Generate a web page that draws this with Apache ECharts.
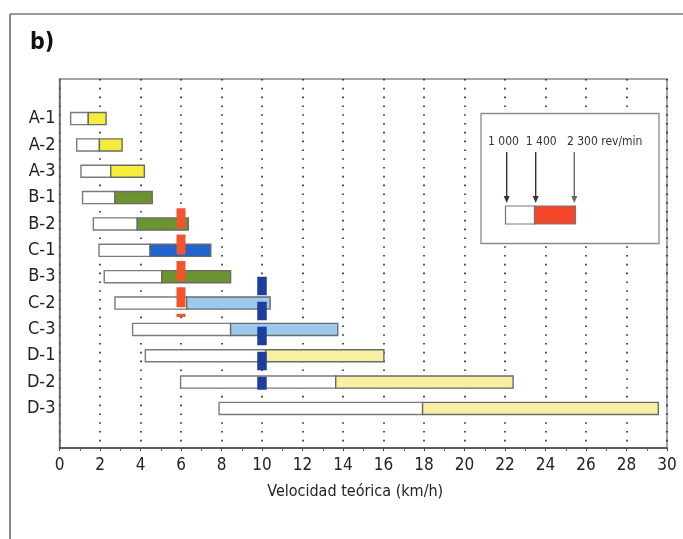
<!DOCTYPE html>
<html>
<head>
<meta charset="utf-8">
<script src="https://cdn.jsdelivr.net/npm/echarts@6/dist/echarts.min.js"></script>
<style>html,body{margin:0;padding:0;background:#fff;}#c{width:683px;height:539px;}</style>
</head>
<body>
<div id="c"></div>
<script>
// ---- data ----
const categories = ['A-1','A-2','A-3','B-1','B-2','C-1','B-3','C-2','C-3','D-1','D-2','D-3'];
const speedAt1000 = [0.55,0.85,1.06,1.14,1.67,1.95,2.21,2.74,3.61,4.24,5.98,7.88];
const speedAt1400 = [1.42,1.97,2.53,2.74,3.84,4.47,5.05,6.28,8.45,10.18,13.64,17.93];
const speedAt2300 = [2.30,3.09,4.19,4.58,6.36,7.47,8.45,10.40,13.74,16.02,22.40,29.57];
const xTicks = [0,2,4,6,8,10,12,14,16,18,20,22,24,26,28,30];
const redMarkerX = [6, 6];
const redMarkerRows = [3.40, 7.53];
const blueMarkerX = [10, 10];
const blueMarkerRows = [6.00, 10.29];
const legendLabel = '1 000  1 400   2 300 rev/min';

// ---- styles ----
const FONT = '"Liberation Sans Narrow","DejaVu Sans Condensed","Liberation Sans",sans-serif';
const rowColor = {
  'A-1':'#f4ee3a','A-2':'#f4ee3a','A-3':'#f4ee3a',
  'B-1':'#6b9431','B-2':'#6b9431','B-3':'#6b9431',
  'C-1':'#2163cf','C-2':'#9ccaee','C-3':'#9ccaee',
  'D-1':'#f7efa2','D-2':'#f7efa2','D-3':'#f7efa2'
};

const barData = categories.map((c, i) => [i, speedAt1000[i], speedAt1400[i], speedAt2300[i]]);

function renderBar(params, api) {
  const i = api.value(0);
  const p0 = api.coord([api.value(1), i]);
  const p1 = api.coord([api.value(2), i]);
  const p2 = api.coord([api.value(3), i]);
  const h = Math.abs(api.size([0, 0.46])[1]);
  const col = rowColor[categories[i]];
  return {
    type: 'group',
    children: [
      { type: 'rect', shape: { x: p0[0], y: p0[1] - h / 2, width: p1[0] - p0[0], height: h },
        style: { fill: '#ffffff', stroke: '#7a7a7a', lineWidth: 1.4 } },
      { type: 'rect', shape: { x: p1[0], y: p1[1] - h / 2, width: p2[0] - p1[0], height: h },
        style: { fill: col, stroke: '#6a6a6a', lineWidth: 1.4 } }
    ]
  };
}

const chart = echarts.init(document.getElementById('c'), null, { renderer: 'canvas' });

const arrowXs = [506.7, 535.7, 574.3];
const graphics = [
  { type: 'line', shape: { x1: 10, y1: 14, x2: 683, y2: 14 }, style: { stroke: '#9a9a9a', lineWidth: 2 }, z: 100 },
  { type: 'line', shape: { x1: 10, y1: 14, x2: 10, y2: 539 }, style: { stroke: '#8a8a8a', lineWidth: 2 }, z: 100 },
  { type: 'rect', shape: { x: 481, y: 113.5, width: 178, height: 130 }, style: { fill: '#ffffff', stroke: '#8a8a8a', lineWidth: 1.3 }, z: 100 },
  { type: 'text', x: 488, y: 141.5, style: { text: legendLabel, font: '12px ' + FONT, fill: '#333', textVerticalAlign: 'middle' }, z: 101 },
  { type: 'rect', shape: { x: 505.5, y: 206, width: 29, height: 18 }, style: { fill: '#ffffff', stroke: '#777', lineWidth: 1.2 }, z: 101 },
  { type: 'rect', shape: { x: 534.5, y: 206, width: 41, height: 18 }, style: { fill: '#f2452a', stroke: '#777', lineWidth: 1.2 }, z: 101 }
];
arrowXs.forEach((ax, k) => {
  const c = k === 2 ? '#666' : '#333';
  graphics.push({ type: 'line', shape: { x1: ax, y1: 152, x2: ax, y2: 198 }, style: { stroke: c, lineWidth: 1.4 }, z: 101 });
  graphics.push({ type: 'polygon', shape: { points: [[ax - 3, 196], [ax + 3, 196], [ax, 203]] }, style: { fill: c }, z: 101 });
});

chart.setOption({
  animation: false,
  backgroundColor: '#ffffff',
  title: {
    text: 'b)', left: 25, top: 27,
    textStyle: { fontFamily: FONT, fontSize: 23, fontWeight: 'bold', color: '#111' }
  },
  grid: {
    left: 59.5, right: 16, top: 79, bottom: 91,
    show: true, borderColor: '#8a8a8a', borderWidth: 1.5, backgroundColor: 'transparent'
  },
  xAxis: {
    type: 'value', min: 0, max: 30, interval: 2,
    name: 'Velocidad teórica (km/h)', nameLocation: 'middle', nameGap: 36,
    nameTextStyle: { fontFamily: FONT, fontSize: 16, color: '#222', padding: [0, 16, 0, 0] },
    axisLine: { show: true, onZero: false, lineStyle: { color: '#444', width: 1.5 } },
    axisTick: { show: true, length: 3, lineStyle: { color: '#444' } },
    minorTick: { show: true, splitNumber: 2, length: 3, lineStyle: { color: '#666' } },
    axisLabel: {
      fontFamily: FONT, fontSize: 17, color: '#222', margin: 9,
      customValues: xTicks
    },
    splitLine: { show: true, lineStyle: { color: '#222', width: 1.6, type: [1.6, 7.2] } }
  },
  yAxis: {
    type: 'value', inverse: true, min: -1.5, max: 12.5,
    axisLine: { show: true, onZero: false, lineStyle: { color: '#666', width: 1.5 } },
    axisTick: { show: false },
    splitLine: { show: false },
    axisLabel: {
      fontFamily: FONT, fontSize: 18, color: '#222', margin: 4,
      customValues: categories.map((c, i) => i),
      formatter: v => categories[Math.round(v)] || ''
    }
  },
  graphic: graphics,
  series: [
    {
      type: 'custom', renderItem: renderBar, data: barData,
      encode: { x: [1, 2, 3], y: 0 }, z: 3
    },
    {
      type: 'line', symbol: 'none', z: 5,
      data: redMarkerX.map((x, k) => [x, redMarkerRows[k]]),
      lineStyle: { color: '#f2542b', width: 9, type: [20, 6.4], cap: 'butt' }
    },
    {
      type: 'line', symbol: 'none', z: 5,
      data: blueMarkerX.map((x, k) => [x, blueMarkerRows[k]]),
      lineStyle: { color: '#1d3e9c', width: 9.5, type: [18.5, 6.5], cap: 'butt' }
    }
  ]
});
</script>
</body>
</html>
